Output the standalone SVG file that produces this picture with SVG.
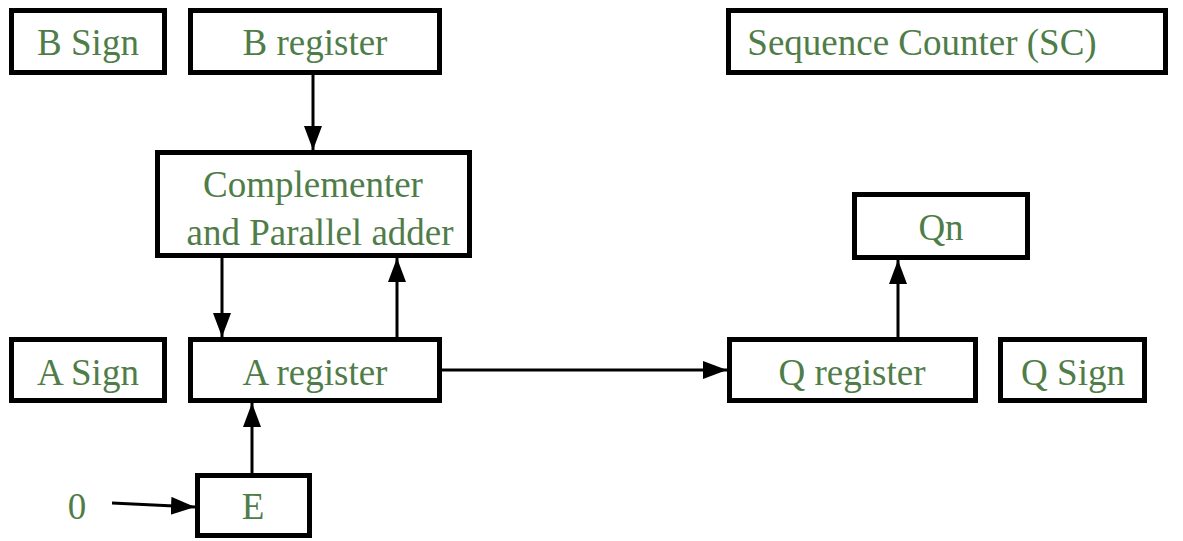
<svg xmlns="http://www.w3.org/2000/svg" width="1183" height="541" viewBox="0 0 1183 541">
<style>
.box{fill:#ffffff;stroke:#000000;stroke-width:5}
.lbl{font-family:"Liberation Serif","Times New Roman",serif;font-size:37px;fill:#4f7d48;text-anchor:middle}
.con{stroke:#000000;stroke-width:3;fill:none}
</style>
<defs>
<marker id="ah" markerUnits="userSpaceOnUse" markerWidth="26" markerHeight="20" refX="24" refY="9" orient="auto">
<path d="M0,0 L24,9 L0,18 Z" fill="#000000"/>
</marker>
</defs>
<rect width="1183" height="541" fill="#ffffff"/>
<g id="bsign"><rect class="box" x="11.5" y="10.5" width="153" height="62"/><text class="lbl" x="88" y="55">B Sign</text></g>
<g id="breg"><rect class="box" x="190.5" y="10.5" width="249" height="62"/><text class="lbl" x="315" y="55">B register</text></g>
<g id="sc"><rect class="box" x="728.5" y="10.5" width="437" height="62"/><text class="lbl" x="922" y="55">Sequence Counter (SC)</text></g>
<g id="comp"><rect class="box" x="157.5" y="152.5" width="312" height="103"/><text class="lbl" x="313" y="197">Complementer</text><text class="lbl" x="320" y="245">and Parallel adder</text></g>
<g id="qn"><rect class="box" x="854.5" y="194.5" width="173" height="63"/><text class="lbl" x="941" y="240">Qn</text></g>
<g id="asign"><rect class="box" x="11.5" y="339.5" width="153" height="61"/><text class="lbl" x="88" y="385">A Sign</text></g>
<g id="areg"><rect class="box" x="190.5" y="339.5" width="249" height="61"/><text class="lbl" x="315" y="385">A register</text></g>
<g id="qreg"><rect class="box" x="729.5" y="339.5" width="246" height="61"/><text class="lbl" x="852" y="385">Q register</text></g>
<g id="qsign"><rect class="box" x="1000.5" y="339.5" width="144" height="61"/><text class="lbl" x="1073" y="385">Q Sign</text></g>
<g id="e"><rect class="box" x="197.5" y="475.5" width="112" height="60"/><text class="lbl" x="253" y="519">E</text></g>
<g id="zero"><text class="lbl" x="77" y="519">0</text></g>
<g id="connectors">
<line class="con" x1="313" y1="75" x2="313" y2="150" marker-end="url(#ah)"/>
<line class="con" x1="222" y1="258" x2="222" y2="337" marker-end="url(#ah)"/>
<line class="con" x1="397" y1="337" x2="397" y2="258" marker-end="url(#ah)"/>
<line class="con" x1="442" y1="370" x2="727" y2="370" marker-end="url(#ah)"/>
<line class="con" x1="898" y1="337" x2="898" y2="260" marker-end="url(#ah)"/>
<line class="con" x1="252" y1="473" x2="252" y2="403" marker-end="url(#ah)"/>
<line class="con" x1="112" y1="503" x2="195" y2="507" marker-end="url(#ah)"/>
</g>
</svg>
